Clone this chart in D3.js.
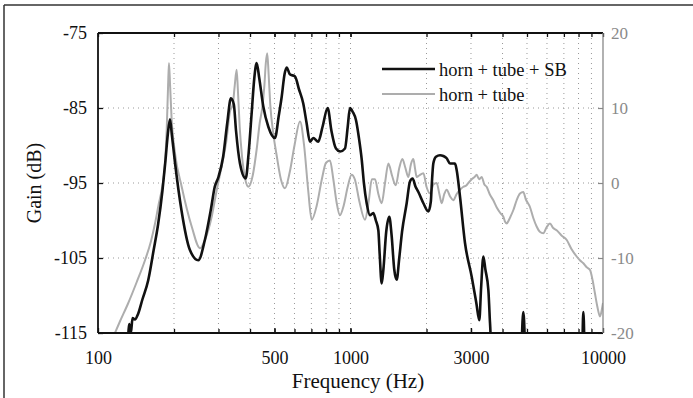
<!DOCTYPE html>
<html>
<head>
<meta charset="utf-8">
<script src="https://cdn.jsdelivr.net/npm/d3@7/dist/d3.min.js"></script>
<style>
body { margin: 0; background: #fff; }
svg { display: block; font-family: "Liberation Serif", "Times New Roman", serif; }
</style>
</head>
<body>
<svg id="chart"></svg>
<script>
// tick values
var freqTicks = [100, 500, 1000, 3000, 10000];
var freqGrid = [200, 300, 400, 500, 600, 700, 800, 900, 1000, 2000, 3000, 4000, 5000, 6000, 7000, 8000, 9000];
var gainTicks = [-115, -105, -95, -85, -75];
var rightTicks = [-20, -10, 0, 10, 20];
var seriesNames = ["horn + tube + SB", "horn + tube"];

// horn + tube (grey), [Hz, dB]
var hornTube = [[115,-115.5],[122,-113.5],[131.8,-111],[142,-108.3],[153.5,-105.3],[162,-102.8],[168.2,-100.4],[174,-97.8],
  [178.8,-95.9],[184.2,-92.4],[187.1,-87.9],[189.5,-82],[191,-79],[193,-82],[195.5,-86.2],[201.8,-91],[214.5,-95.5],
  [235,-100.8],[253.5,-103.7],[265,-102.6],[282,-99.5],[295,-96],[310,-92.5],[322,-89.5],[333,-85.5],[342,-84.5],
  [348,-82],[354,-79.9],[358,-82.5],[364,-87.5],[372,-91.5],[383,-94.5],[394,-95.5],[410,-94],[425,-90.5],[437,-87],
  [447,-85],[456,-82],[462,-79],[468,-77.7],[474,-80.5],[481,-84.5],[494,-88.3],[511,-91.5],[530,-94.5],[550,-95.7],
  [575,-93.5],[600,-90],[631,-86.8],[655,-90],[680,-96],[702,-99.9],[735,-98],[770,-94.5],[800,-92.3],[829,-92],
  [855,-94.5],[880,-97.5],[908,-99.3],[940,-98],[975,-95.5],[1010,-93.9],[1040,-94.5],[1085,-97.5],[1141,-99.9],
  [1180,-97.5],[1215,-94.5],[1250,-94.5],[1290,-96.5],[1329,-97.7],[1370,-95],[1413,-92.4],[1460,-94],[1511,-95.3],
  [1560,-93],[1605,-91.8],[1650,-93],[1695,-94.2],[1735,-92.5],[1774,-91.8],[1800,-93],[1829,-94.2],[1870,-94],
  [1944,-93.7],[2000,-95.5],[2065,-96.4],[2130,-95.2],[2194,-95],[2250,-96.5],[2297,-97.7],[2350,-96.5],[2404,-95.9],
  [2480,-96.8],[2554,-97.3],[2630,-96.5],[2714,-95.9],[2800,-95.5],[2880,-95.3],[2928,-95],[3020,-94.5],[3100,-94.2],
  [3160,-93.9],[3230,-94.5],[3307,-94.2],[3390,-95.2],[3460,-95.5],[3560,-96.5],[3678,-97.3],[3800,-98.3],[3920,-99],
  [4030,-99.5],[4100,-100.2],[4157,-100.4],[4230,-100],[4300,-99.5],[4416,-98.6],[4550,-97.3],[4691,-96.4],[4833,-96.2],
  [4950,-97.2],[5137,-98.2],[5300,-99.7],[5460,-100.8],[5620,-101.5],[5803,-101.7],[5980,-100.9],[6166,-100.4],
  [6350,-101],[6553,-101.3],[6850,-102],[7185,-102.6],[7500,-103.8],[7866,-104.8],[8100,-105.3],[8360,-105.7],
  [8600,-106.2],[8884,-106.6],[9100,-108],[9290,-109.7],[9500,-111.5],[9730,-112.8],[9880,-112],[10000,-111]];

// horn + tube + SB (black), [Hz, dB]; values under -115 fall off the plot
var hornTubeSB = [[128,-125],[131,-117],[133,-113.8],[135,-115],[137,-113],[140,-113.2],[144,-112.5],[150,-110.5],
  [158,-108],[166,-104],[173,-100.5],[180,-96],[185,-92],[189,-88.5],[192.8,-86.5],[196,-88.5],[202,-92.4],[214,-98.6],
  [231,-103.9],[249.6,-105.3],[265,-102.6],[280,-98.5],[290,-95.5],[300,-94.2],[313,-91.5],[325,-87],[336,-83.7],
  [345,-84.5],[352,-88],[365,-92.4],[384.6,-94.4],[395,-91],[406,-85.7],[416,-81],[425,-79],[435,-81],[451.5,-84.8],
  [472.6,-87.5],[502,-89],[520,-86],[534,-83.5],[548,-80.5],[558.8,-79.6],[575,-80.5],[603,-80.8],[625,-82.5],
  [650,-84.4],[670,-87],[691,-89.5],[712,-89],[745,-89.5],[775,-87.5],[812,-85],[840,-88],[876,-90.4],[910,-90.8],
  [951,-90.4],[975,-87.5],[995,-85],[1020,-85.5],[1051,-86.6],[1080,-89],[1108,-91.9],[1130,-95],[1159,-97.7],
  [1194,-99.3],[1231,-99],[1260,-100],[1289,-101.3],[1305,-104.5],[1329,-108.4],[1350,-106.5],[1385,-101.5],
  [1424,-99.5],[1455,-102],[1490,-106.5],[1524,-107.9],[1560,-105],[1600,-101.5],[1669,-97.7],[1720,-94.8],
  [1762,-94.4],[1810,-95.5],[1857,-96.2],[1944,-97.7],[2033,-98.8],[2080,-97.5],[2100,-95],[2128,-92.4],[2180,-91.5],
  [2262,-91.3],[2330,-91.4],[2404,-91.7],[2478,-92.4],[2594,-92.4],[2634,-93.3],[2714,-96.8],[2841,-103],[3020,-107.5],
  [3150,-111],[3237,-113.3],[3290,-109],[3359,-104.8],[3420,-106.5],[3516,-109.3],[3560,-113],[3591,-116],[3620,-125],
  [4700,-125],[4770,-116],[4833,-112.2],[4900,-116],[4960,-125],[8250,-125],[8300,-116],[8360,-112.2],[8430,-116],
  [8500,-125],[10000,-125]];

var W = 693, H = 398;
var plotL = 98, plotR = 603, plotT = 33, plotB = 333;

var svg = d3.select('#chart')
  .attr('width', W)
  .attr('height', H);

var x = d3.scaleLog()
  .domain([100, 10000])
  .range([plotL, plotR]);

var y = d3.scaleLinear()
  .domain([-115, -75])
  .range([plotB, plotT]);

var yRight = d3.scaleLinear()
  .domain([-20, 20])
  .range([plotB, plotT]);

// plain hyphen for negative numbers, like the original
var fmt = d => String(d);

// scan frame edges
svg.append('line').attr('x1', 4).attr('x2', W).attr('y1', 5).attr('y2', 5)
  .attr('stroke', '#333').attr('stroke-width', 1.5);
svg.append('line').attr('x1', 4).attr('x2', 4).attr('y1', 5).attr('y2', H)
  .attr('stroke', '#333').attr('stroke-width', 1.5);

// dotted grid
svg.append('g').selectAll('line')
  .data(freqGrid)
  .join('line')
  .attr('x1', d => x(d)).attr('x2', d => x(d))
  .attr('y1', plotT).attr('y2', plotB)
  .attr('stroke', '#999').attr('stroke-width', 1)
  .attr('stroke-dasharray', '1,4');

svg.append('g').selectAll('line')
  .data(gainTicks.slice(1, -1))
  .join('line')
  .attr('x1', plotL).attr('x2', plotR)
  .attr('y1', d => y(d)).attr('y2', d => y(d))
  .attr('stroke', '#999').attr('stroke-width', 1)
  .attr('stroke-dasharray', '1,4');

// curves
svg.append('clipPath').attr('id', 'plotclip')
  .append('rect').attr('x', plotL).attr('y', plotT).attr('width', plotR - plotL).attr('height', plotB - plotT);

var line = d3.line()
  .x(d => x(d[0]))
  .y(d => y(d[1]))
  .curve(d3.curveMonotoneX);

svg.append('path')
  .datum(hornTube)
  .attr('clip-path', 'url(#plotclip)')
  .attr('d', line)
  .attr('fill', 'none')
  .attr('stroke', '#adadad')
  .attr('stroke-width', 2);

svg.append('path')
  .datum(hornTubeSB)
  .attr('clip-path', 'url(#plotclip)')
  .attr('d', line)
  .attr('fill', 'none')
  .attr('stroke', '#111')
  .attr('stroke-width', 2.6)
  .attr('stroke-linejoin', 'round');

// axes (ticks point inwards)
var xBottom = d3.axisBottom(x).tickValues(freqTicks).tickFormat(fmt)
  .tickSizeInner(-5).tickSizeOuter(0).tickPadding(18);
var gB = svg.append('g').attr('transform', 'translate(0,' + plotB + ')').call(xBottom);
gB.append('g').call(d3.axisBottom(x).tickValues(freqGrid).tickFormat('').tickSizeInner(-4).tickSizeOuter(0));

var gT = svg.append('g').attr('transform', 'translate(0,' + plotT + ')')
  .call(d3.axisTop(x).tickValues(freqGrid.concat(freqTicks)).tickFormat('').tickSizeInner(-4).tickSizeOuter(0));

var gL = svg.append('g').attr('transform', 'translate(' + plotL + ',0)')
  .call(d3.axisLeft(y).tickValues(gainTicks).tickFormat(fmt).tickSizeInner(-5).tickSizeOuter(0).tickPadding(11));

var gR = svg.append('g').attr('transform', 'translate(' + plotR + ',0)')
  .call(d3.axisRight(yRight).tickValues(rightTicks).tickFormat(fmt).tickSizeInner(-5).tickSizeOuter(0).tickPadding(8));

svg.selectAll('.domain').remove();
[gB, gT, gL].forEach(function (g) {
  g.selectAll('line').attr('stroke', '#111').attr('stroke-width', 1.3);
  g.selectAll('text').attr('fill', '#111').attr('font-size', 18).attr('font-family', '"Liberation Serif", serif');
});
gR.selectAll('line').attr('stroke', '#888').attr('stroke-width', 1.2);
gR.selectAll('text').attr('fill', '#8a8a8a').attr('font-size', 17).attr('font-family', '"Liberation Serif", serif');

// frame
svg.append('line').attr('x1', plotL).attr('x2', plotR).attr('y1', plotT).attr('y2', plotT)
  .attr('stroke', '#111').attr('stroke-width', 1.8);
svg.append('line').attr('x1', plotL).attr('x2', plotR).attr('y1', plotB).attr('y2', plotB)
  .attr('stroke', '#111').attr('stroke-width', 1.8);
svg.append('line').attr('x1', plotL).attr('x2', plotL).attr('y1', plotT).attr('y2', plotB)
  .attr('stroke', '#111').attr('stroke-width', 1.8);
svg.append('line').attr('x1', plotR).attr('x2', plotR).attr('y1', plotT).attr('y2', plotB)
  .attr('stroke', '#888').attr('stroke-width', 1.3);

// axis titles
svg.append('text')
  .attr('x', 358).attr('y', 388)
  .attr('text-anchor', 'middle')
  .attr('font-size', 21).attr('fill', '#111')
  .text('Frequency (Hz)');

svg.append('text')
  .attr('transform', 'translate(41,' + ((plotT + plotB) / 2) + ') rotate(-90)')
  .attr('text-anchor', 'middle')
  .attr('font-size', 20).attr('fill', '#111')
  .text('Gain (dB)');

// legend
var legend = svg.append('g').attr('transform', 'translate(382,69)');
var legendColors = ['#111', '#adadad'];
var legendWidths = [2.6, 2];
seriesNames.forEach(function (name, i) {
  var row = legend.append('g').attr('transform', 'translate(0,' + (i * 25) + ')');
  row.append('line').attr('x1', 0).attr('x2', 53).attr('y1', 0).attr('y2', 0)
    .attr('stroke', legendColors[i]).attr('stroke-width', legendWidths[i]);
  row.append('text').attr('x', 57).attr('y', 7)
    .attr('font-size', 18.5).attr('fill', '#111')
    .text(name);
});
</script>
</body>
</html>
